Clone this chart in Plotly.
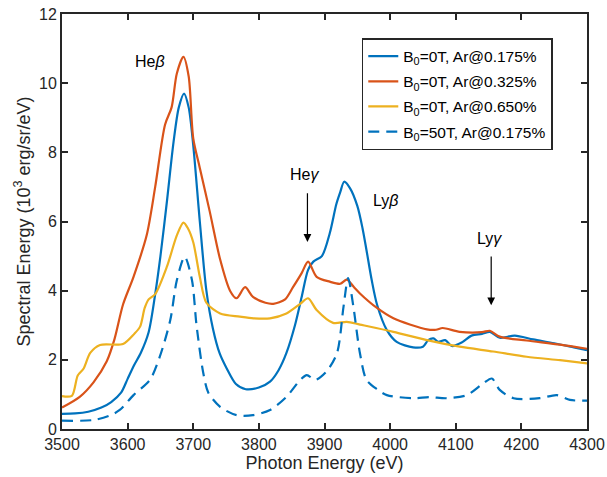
import plotly.graph_objects as go

# ---- data ----
e_b0 = [3500, 3520, 3540, 3560, 3575, 3590, 3600, 3610, 3620, 3632, 3642, 3650, 3660, 3670, 3678, 3686,
        3693, 3700, 3710, 3720, 3730, 3740, 3751, 3765, 3780, 3800, 3817, 3830, 3842, 3855, 3865, 3875,
        3883, 3896, 3908, 3918, 3924, 3930, 3939, 3950, 3958, 3964, 3972, 3980, 3995, 4010, 4035, 4050,
        4058, 4066, 4073, 4084, 4094, 4109, 4124, 4140, 4152, 4167, 4190, 4218, 4250, 4280, 4300]
v_b0 = [0.44, 0.45, 0.50, 0.62, 0.78, 1.05, 1.45, 1.85, 2.2, 2.8, 3.9, 5.0, 6.6, 8.3, 9.3, 9.7,
        9.3, 8.2, 6.0, 4.0, 2.9, 2.2, 1.75, 1.3, 1.15, 1.2, 1.37, 1.7, 2.2, 3.0, 3.8, 4.6,
        4.84, 5.0, 5.66, 6.5, 6.85, 7.15, 6.96, 6.45, 5.8, 5.17, 4.3, 3.6, 2.86, 2.52, 2.36, 2.38,
        2.57, 2.62, 2.52, 2.57, 2.40, 2.50, 2.70, 2.75, 2.81, 2.64, 2.70, 2.59, 2.48, 2.36, 2.28]

e_r = [3500, 3527, 3548, 3568, 3580, 3593, 3609, 3629, 3642, 3657, 3667, 3675, 3685, 3693, 3700, 3710,
       3725, 3741, 3756, 3766, 3779, 3791, 3810, 3822, 3840, 3852, 3865, 3875, 3888, 3908, 3924, 3934,
       3945, 3954, 3980, 4005, 4030, 4056, 4070, 4080, 4106, 4140, 4152, 4167, 4208, 4259, 4300]
v_r = [0.62, 0.93, 1.35, 1.95, 2.6, 3.6, 4.4, 5.6, 7.0, 8.8, 9.3, 10.28, 10.76, 10.2, 8.4, 7.55,
       6.3, 4.9, 4.0, 3.78, 4.1, 3.82, 3.65, 3.62, 3.75, 4.1, 4.5, 4.84, 4.4, 4.26, 4.2, 4.32,
       4.1, 3.92, 3.5, 3.2, 3.02, 2.88, 2.87, 2.92, 2.81, 2.8, 2.84, 2.67, 2.56, 2.44, 2.32]

e_y = [3500, 3515, 3524, 3533, 3543, 3558, 3593, 3610, 3619, 3626, 3632, 3642, 3660, 3675, 3685, 3692,
       3700, 3710, 3720, 3741, 3771, 3792, 3817, 3842, 3863, 3875, 3888, 3913, 3934, 3954, 4005, 4056,
       4106, 4157, 4208, 4259, 4300]
v_y = [0.95, 0.96, 1.55, 1.75, 2.2, 2.43, 2.46, 2.75, 2.96, 3.5, 3.75, 3.9, 4.7, 5.6, 5.97, 5.8,
       5.4, 4.4, 3.65, 3.34, 3.25, 3.2, 3.2, 3.34, 3.62, 3.78, 3.44, 3.07, 3.1, 3.02, 2.81, 2.57,
       2.38, 2.24, 2.09, 1.99, 1.90]

e_d = [3500, 3548, 3573, 3588, 3609, 3634, 3649, 3665, 3675, 3687, 3698, 3705, 3715, 3723, 3741, 3766,
       3791, 3817, 3842, 3863, 3873, 3886, 3903, 3919, 3929, 3936, 3944, 3954, 3964, 3980, 3995, 4035,
       4060, 4086, 4117, 4142, 4155, 4167, 4188, 4228, 4254, 4274, 4300]
v_d = [0.24, 0.26, 0.39, 0.55, 0.98, 1.42, 2.09, 3.15, 4.3, 4.98, 4.31, 3.0, 1.65, 1.05, 0.64, 0.40,
       0.40, 0.55, 0.93, 1.42, 1.56, 1.42, 1.66, 2.19, 3.54, 4.36, 3.54, 2.19, 1.42, 1.15, 0.98, 0.89,
       0.92, 0.89, 0.98, 1.32, 1.46, 1.13, 0.89, 0.89, 0.98, 0.84, 0.82]

names = ["B<sub>0</sub>=0T, Ar@0.175%", "B<sub>0</sub>=0T, Ar@0.325%",
         "B<sub>0</sub>=0T, Ar@0.650%", "B<sub>0</sub>=50T, Ar@0.175%"]

BLUE, RED, YEL = "#0072BD", "#D95319", "#EDB120"
FONT = "Liberation Sans, Arial, sans-serif"

fig = go.Figure()
series = [(e_b0, v_b0, BLUE, "solid"), (e_r, v_r, RED, "solid"),
          (e_y, v_y, YEL, "solid"), (e_d, v_d, BLUE, "11px,7px")]
for i, ((x, y, c, d), n) in enumerate(zip(series, names)):
    fig.add_trace(go.Scatter(x=x, y=y, mode="lines", name=n, legendgroup=f"g{i}",
                             line=dict(color=c, width=2.2, dash=d, shape="spline", smoothing=0.8)))

axis_common = dict(showline=True, mirror="ticks", linewidth=2, linecolor="#262626",
                   ticks="inside", ticklen=6, tickwidth=1.5, tickcolor="#262626",
                   showgrid=False, zeroline=False, automargin=False, ticklabeloverflow="allow",
                   tickfont=dict(family=FONT, size=16, color="#262626"))

fig.update_xaxes(range=[3500, 4300], dtick=100, tick0=3500,
                 title=dict(text="Photon Energy (eV)", font=dict(family=FONT, size=18, color="#262626"), standoff=4),
                 **axis_common)
fig.update_yaxes(range=[0, 12], dtick=2, tick0=0,
                 title=dict(text="Spectral Energy (10<sup>3</sup> erg/sr/eV)", font=dict(family=FONT, size=18, color="#262626"), standoff=4),
                 **axis_common)

ann_font = dict(family=FONT, size=16, color="black")
fig.add_annotation(x=3634, y=10.62, text="He<i>β</i>", showarrow=False, font=ann_font)
fig.add_annotation(x=3870, y=7.35, text="He<i>γ</i>", showarrow=False, font=ann_font)
fig.add_annotation(x=3993, y=6.6, text="Ly<i>β</i>", showarrow=False, font=ann_font)
fig.add_annotation(x=4152, y=5.5, text="Ly<i>γ</i>", showarrow=False, font=ann_font)
fig.add_annotation(x=3874, y=5.41, ax=3874, ay=6.86, axref="x", ayref="y", text="",
                   showarrow=True, arrowhead=2, arrowsize=1.3, arrowwidth=1.2, arrowcolor="black")
fig.add_annotation(x=4154, y=3.58, ax=4154, ay=5.03, axref="x", ayref="y", text="",
                   showarrow=True, arrowhead=2, arrowsize=1.3, arrowwidth=1.2, arrowcolor="black")

fig.update_layout(
    width=607, height=477,
    margin=dict(l=62, r=20, t=14, b=48),
    plot_bgcolor="white", paper_bgcolor="white",
    legend=dict(x=0.571, y=0.942, xanchor="left", yanchor="top",
                bordercolor="#262626", borderwidth=1.5, bgcolor="white",
                font=dict(family=FONT, size=15.5, color="black"), tracegroupgap=2),
    font=dict(family=FONT),
)

# remove the default 8px page margin so the figure fills the window exactly
fig.write_html("out.html", config={"displayModeBar": False},
               post_script="document.body.style.margin='0px';document.body.style.overflow='hidden';")
